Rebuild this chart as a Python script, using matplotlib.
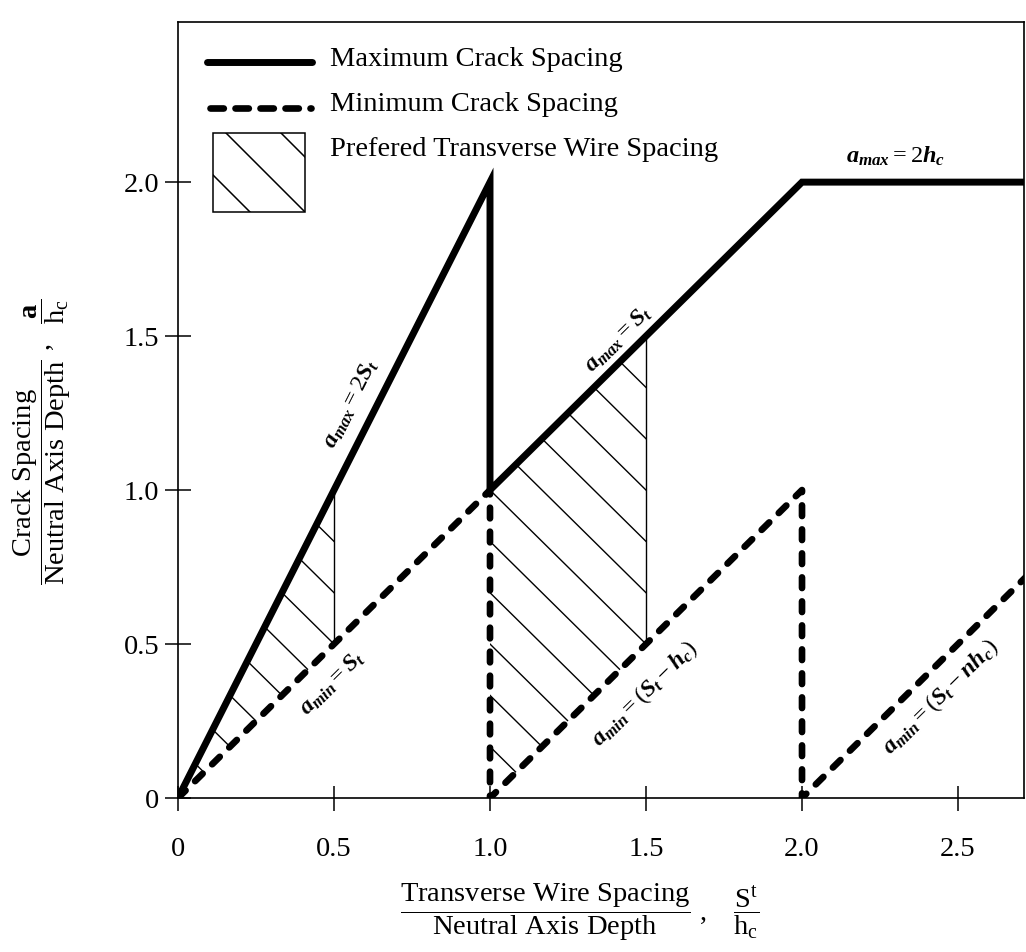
import numpy as np
import matplotlib
matplotlib.use("Agg")
import matplotlib.pyplot as plt
import matplotlib.transforms as mtransforms
from matplotlib.patches import Polygon, Rectangle
from matplotlib.collections import LineCollection
from matplotlib.lines import Line2D

plt.rcParams['font.family'] = ['Liberation Serif', 'DejaVu Serif']
plt.rcParams['mathtext.fontset'] = 'custom'
plt.rcParams['mathtext.rm'] = 'Liberation Serif'
plt.rcParams['mathtext.it'] = 'Liberation Serif:italic:bold'
plt.rcParams['mathtext.bf'] = 'Liberation Serif:bold'

# ---- data: crack spacing bounds vs. transverse wire spacing (st / hc) ----
max_x = [0.0, 1.0, 1.0, 2.0, 2.8]
max_y = [0.0, 2.0, 1.0, 2.0, 2.0]
min_x = [0.0, 1.0, 1.0, 2.0, 2.0, 2.8]
min_y = [0.0, 1.0, 0.0, 1.0, 0.0, 0.8]

# preferred transverse wire spacing bands
band_x = [[0.0, 0.5], [1.0, 1.5]]
band_upper = [[0.0, 1.0], [1.0, 1.5]]
band_lower = [[0.0, 0.5], [0.0, 0.5]]

x_ticks = [0.0, 0.5, 1.0, 1.5, 2.0, 2.5]
x_ticklabels = ['0', '0.5', '1.0', '1.5', '2.0', '2.5']
y_ticks = [0.0, 0.5, 1.0, 1.5, 2.0]
y_ticklabels = ['0', '0.5', '1.0', '1.5', '2.0']

W, H = 1026, 952
fig = plt.figure(figsize=(W / 100, H / 100), dpi=100)
ax = fig.add_axes([178 / W, 1 - 798 / H, (1024 - 178) / W, (798 - 22) / H])
ax.set_xlim(0, 2.7115)
ax.set_ylim(0, 2.52)

for side in ['left', 'right', 'top', 'bottom']:
    ax.spines[side].set_linewidth(1.2)

ax.set_xticks(x_ticks)
ax.set_xticklabels(x_ticklabels)
ax.set_yticks(y_ticks)
ax.set_yticklabels(y_ticklabels)
ax.tick_params(axis='both', direction='inout', width=1.1, labelsize=20.5)
ax.tick_params(axis='x', length=18, pad=19)
ax.tick_params(axis='y', length=19, pad=4)

# hatched preferred bands
hatch_step = 1.0 / 6.0
for bx, bu, bl in zip(band_x, band_upper, band_lower):
    verts = [(bx[0], bl[0]), (bx[0], bu[0]), (bx[1], bu[1]), (bx[1], bl[1])]
    poly = Polygon(verts, closed=True, facecolor='none', edgecolor='none')
    ax.add_patch(poly)
    c_lo = bx[0] + min(bl)
    c_hi = bx[1] + max(bu)
    segs = []
    for k in range(int(np.floor(c_lo / hatch_step)), int(np.ceil(c_hi / hatch_step)) + 1):
        c = k * hatch_step
        segs.append([(bx[0] - 0.1, c - bx[0] + 0.1), (bx[1] + 0.1, c - bx[1] - 0.1)])
    lc = LineCollection(segs, colors='black', linewidths=1.0)
    ax.add_collection(lc)
    lc.set_clip_path(poly)
    ax.plot([bx[1], bx[1]], [bl[1], bu[1]], color='black', lw=1.0)

# maximum and minimum crack spacing
ax.plot(max_x, max_y, color='black', lw=5, solid_joinstyle='miter',
        solid_capstyle='butt', zorder=5)
ax.plot(min_x, min_y, color='black', lw=4.8, linestyle=(0, (1.6, 2.0)),
        dash_capstyle='round', zorder=5)

# annotations along the bounds
ann = dict(fontsize=17.5, transform_rotates_text=True, rotation_mode='anchor',
           ha='center', va='center')
ax.text(0.555, 1.28, r'$a_{max} = 2S_t$', rotation=np.degrees(np.arctan2(2.0, 1.0)), **ann)
ax.text(1.41, 1.49, r'$a_{max} = S_t$', rotation=45, **ann)
ax.text(2.30, 2.085, r'$a_{max} = 2h_c$', rotation=0, **ann)
ax.text(0.496, 0.373, r'$a_{min} = S_t$', rotation=45, **ann)
ax.text(1.495, 0.34, r'$a_{min} = (S_t - h_c)$', rotation=45, **ann)
ax.text(2.445, 0.328, r'$a_{min} = (S_t - nh_c)$', rotation=45, **ann)

# legend, placed in pixel coordinates (origin top-left)
px = mtransforms.Affine2D().scale(1 / W, -1 / H).translate(0, 1) + fig.transFigure
fig.add_artist(Line2D([207, 312], [62, 62], color='black', lw=5,
                      solid_capstyle='round', transform=px))
fig.add_artist(Line2D([210, 311], [108, 108], color='black', lw=4.8,
                      linestyle=(0, (2.0, 1.75)), dash_capstyle='round', transform=px))
box = Rectangle((213, 133), 92, 79, facecolor='none', edgecolor='black', lw=1.1,
                transform=px)
fig.add_artist(box)
box_segs = []
for k in range(-2, 4):
    c = 38 + 55 * k
    box_segs.append([(213 - 100, 213 - 100 - c), (305 + 100, 305 + 100 - c)])
blc = LineCollection(box_segs, colors='black', linewidths=1.1, transform=px)
fig.add_artist(blc)
blc.set_clip_path(box)

leg_kw = dict(fontsize=20.5, ha='left', va='baseline', transform=px)
fig.text(330, 66, 'Maximum Crack Spacing', **leg_kw)
fig.text(330, 111, 'Minimum Crack Spacing', **leg_kw)
fig.text(330, 156, 'Prefered Transverse Wire Spacing', **leg_kw)

# axis titles as fractions
fig.text(580, 912,
         r'$\dfrac{\mathrm{Transverse\ Wire\ Spacing}}{\mathrm{Neutral\ Axis\ Depth}}\ ,\ \ \ \dfrac{\mathrm{S^t}}{\mathrm{h_c}}$',
         fontsize=20.5, ha='center', va='center', transform=px)
fig.text(42, 442,
         r'$\dfrac{\mathrm{Crack\ Spacing}}{\mathrm{Neutral\ Axis\ Depth}}\ ,\ \ \dfrac{\mathbf{a}}{\mathrm{h_c}}$',
         fontsize=20.5, ha='center', va='center', rotation=90, transform=px)

fig.savefig('out.png', dpi=100)
